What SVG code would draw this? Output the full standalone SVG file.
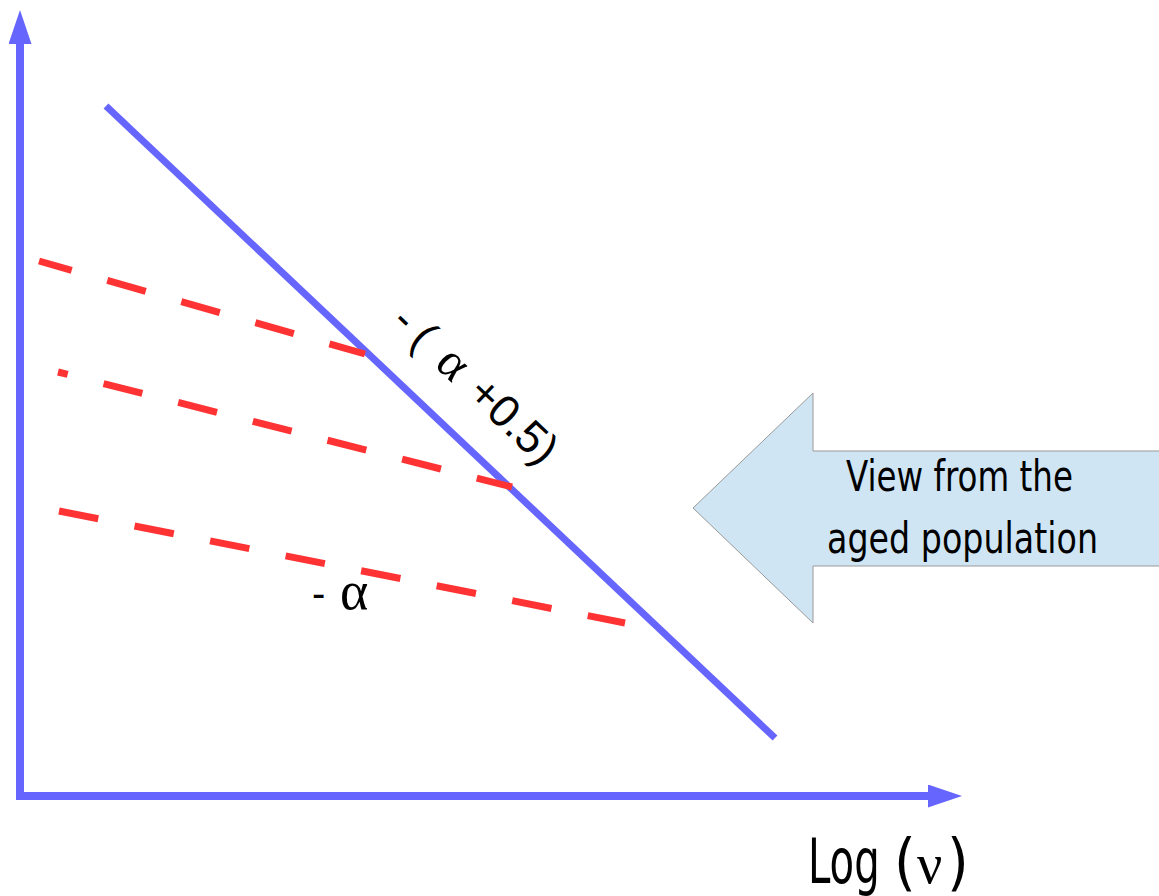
<svg xmlns="http://www.w3.org/2000/svg" width="1159" height="896" viewBox="0 0 1159 896">
<style>
.axis{stroke:#6666ff;stroke-width:8;fill:none}
.blue{stroke:#6666ff;stroke-width:7;fill:none}
.red{stroke:#ff3333;stroke-width:7;fill:none;stroke-dasharray:40 37}
.sans{font-family:"Liberation Sans",Arial,sans-serif;fill:#000}
.serif{font-family:"Liberation Serif","Times New Roman",serif;fill:#000}
.cond{font-family:"Liberation Sans Narrow","DejaVu Sans Condensed","Liberation Sans",sans-serif;fill:#000}
</style>
<defs>
<marker id="head" viewBox="0 0 34 23" markerWidth="34" markerHeight="23" markerUnits="userSpaceOnUse" refX="0" refY="11.5" orient="auto">
<path d="M0,0 L34,11.5 L0,23 z" fill="#6666ff"/>
</marker>
</defs>
<rect width="1159" height="896" fill="#fff"/>
<g id="axes">
<line class="axis" x1="20" y1="800" x2="20" y2="44" marker-end="url(#head)"/>
<line class="axis" x1="16" y1="796" x2="928" y2="796" marker-end="url(#head)"/>
</g>
<g id="lines">
<line class="blue" x1="106" y1="106" x2="775" y2="738"/>
<line class="red" x1="39" y1="261" x2="365" y2="354" style="stroke-dashoffset:6"/>
<line class="red" x1="58" y1="372" x2="512" y2="487" style="stroke-dashoffset:30"/>
<line class="red" x1="59" y1="511" x2="625" y2="623"/>
</g>
<g id="label-slope1" transform="translate(472,402) rotate(43.4)">
<text class="sans" font-size="44" x="-106" y="0" text-anchor="middle">-</text>
<text class="sans" font-size="44" x="-80" y="0" text-anchor="middle">(</text>
<text class="serif" font-size="50" x="-40" y="0" text-anchor="middle">α</text>
<text class="sans" font-size="45" x="-9" y="0">+0.5)</text>
</g>
<g id="label-slope2">
<text class="sans" font-size="40" x="312" y="607">-</text>
<text class="serif" font-size="54" x="340" y="609">α</text>
</g>
<g id="view-arrow">
<polygon points="693,508 813,393 813,451 1162,451 1162,566 813,566 813,623" fill="#cfe5f4" stroke="#999999" stroke-width="1"/>
<text class="cond" font-size="42" x="846" y="491" textLength="227" lengthAdjust="spacingAndGlyphs">View from the</text>
<text class="cond" font-size="42" x="827" y="553" textLength="271" lengthAdjust="spacingAndGlyphs">aged population</text>
</g>
<g id="x-label">
<text class="cond" font-size="62" transform="translate(808,883) scale(0.72,1)">Log</text>
<text class="cond" font-size="62" y="883"><tspan x="894">(</tspan><tspan x="917" class="serif" font-size="56">ν</tspan><tspan x="947">)</tspan></text>
</g>
</svg>
